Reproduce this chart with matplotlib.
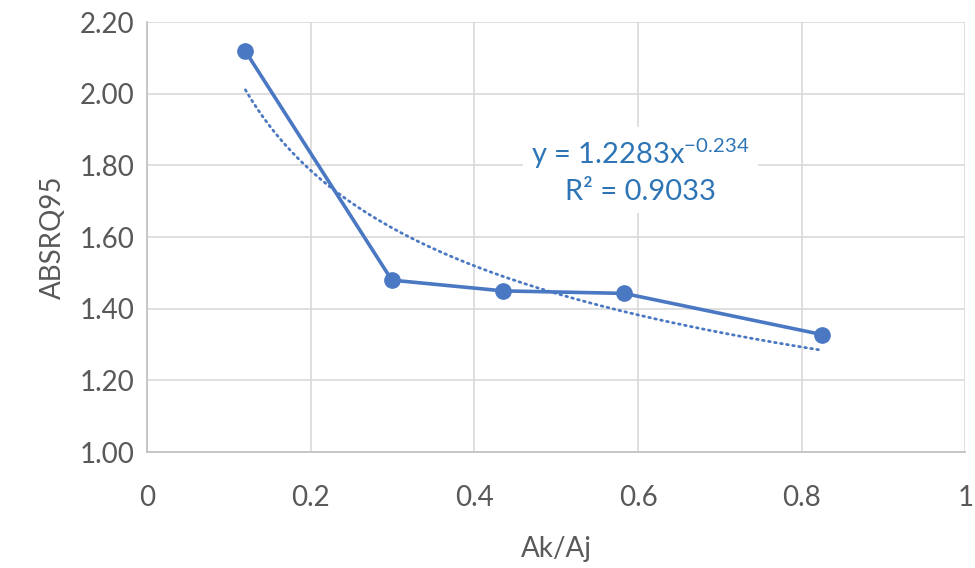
import numpy as np
import matplotlib.pyplot as plt
from matplotlib.ticker import FormatStrFormatter

plt.rcParams['font.family'] = ['Lato', 'DejaVu Sans']
plt.rcParams['mathtext.fontset'] = 'custom'
plt.rcParams['mathtext.rm'] = 'Lato'
plt.rcParams['mathtext.it'] = 'Lato'
plt.rcParams['axes.unicode_minus'] = False

# data
ak_aj = [0.120, 0.299, 0.435, 0.583, 0.825]
absrq95 = [2.119, 1.480, 1.450, 1.443, 1.328]
eq_text = "y = 1.2283x$^{\\mathrm{-0.234}}$\nR² = 0.9033"

x_ticks = [0, 0.2, 0.4, 0.6, 0.8, 1]
x_ticklabels = ['0', '0.2', '0.4', '0.6', '0.8', '1']
y_ticks = [1.0, 1.2, 1.4, 1.6, 1.8, 2.0, 2.2]

line_col = '#4A78C2'
txt_col = '#595959'

fig = plt.figure(figsize=(9.75, 5.68), dpi=100)
ax = fig.add_axes([0.151, 0.204, 0.839, 0.757])

ax.plot(ak_aj, absrq95, color=line_col, lw=2.6, marker='o', ms=11, zorder=3)

# power trendline fitted to the points (log-log least squares)
b, ln_a = np.polyfit(np.log(ak_aj), np.log(absrq95), 1)
xt = np.linspace(min(ak_aj), max(ak_aj), 200)
ax.plot(xt, np.exp(ln_a) * xt ** b, color=line_col, lw=2, ls=(0, (0.6, 1.6)),
        dash_capstyle='round', zorder=2)

ax.text(0.603, 1.785, eq_text, ha='center', va='center', fontsize=21,
        color='#2E75B6', linespacing=1.35,
        bbox=dict(facecolor='white', edgecolor='none', pad=6), zorder=4)

ax.set_xlim(0, 1)
ax.set_ylim(1.0, 2.2)
ax.set_xticks(x_ticks)
ax.set_xticklabels(x_ticklabels)
ax.set_yticks(y_ticks)
ax.yaxis.set_major_formatter(FormatStrFormatter('%.2f'))
ax.grid(True, color='#D9D9D9', lw=1.2)
ax.set_axisbelow(True)
for s in ['top', 'right']:
    ax.spines[s].set_visible(False)
for s in ['left', 'bottom']:
    ax.spines[s].set_color('#BFBFBF')
    ax.spines[s].set_linewidth(1.2)
ax.tick_params(length=0, labelsize=20, colors=txt_col, pad=9)
ax.tick_params(axis='x', pad=24)

ax.set_xlabel('Ak/Aj', fontsize=20, color=txt_col, labelpad=18)
ax.set_ylabel('ABSRQ95', fontsize=20, color=txt_col, labelpad=10)

fig.savefig('out.png', dpi=100)
